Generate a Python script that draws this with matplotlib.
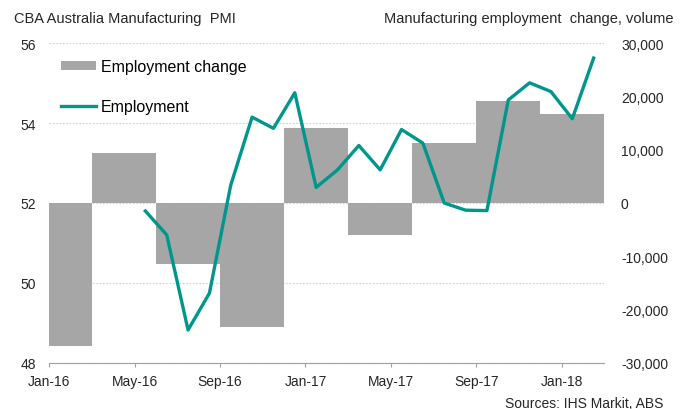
import matplotlib
matplotlib.use("Agg")
import matplotlib.pyplot as plt
import pandas as pd

plt.rcParams['font.family'] = ['Liberation Sans', 'DejaVu Sans']
plt.rcParams['axes.unicode_minus'] = False

# ## Data ##
# month grid used as the x scale (category per month)
months = [p.strftime('%b-%y') for p in pd.period_range('2016-01', '2018-03', freq='M')]
tick_labels = ["Jan-16", "May-16", "Sep-16", "Jan-17", "May-17", "Sep-17", "Jan-18"]

# quarterly manufacturing employment change (volume, right axis)
bar_months = ["Jan-16", "Apr-16", "Jul-16", "Oct-16", "Jan-17",
              "Apr-17", "Jul-17", "Oct-17", "Jan-18"]
emp_change = [-26800, 9400, -11500, -23200, 14000, -6000, 11200, 19100, 16700]

# PMI employment index (left axis)
pmi_months = ["May-16", "Jun-16", "Jul-16", "Aug-16", "Sep-16", "Oct-16",
              "Nov-16", "Dec-16", "Jan-17", "Feb-17", "Mar-17", "Apr-17",
              "May-17", "Jun-17", "Jul-17", "Aug-17", "Sep-17", "Oct-17",
              "Nov-17", "Dec-17", "Jan-18", "Feb-18"]
pmi_employment = [51.80, 51.20, 48.82, 49.74, 52.45, 54.15, 53.87, 54.76,
                  52.39, 52.83, 53.44, 52.83, 53.84, 53.50, 52.00, 51.82,
                  51.81, 54.58, 55.01, 54.79, 54.11, 55.63]

GREY = "#A6A6A6"
TEAL = "#00968C"
TEXT = "#262626"


def month_pos(label):
    """Centre of a month category on the x scale."""
    return months.index(label) + 0.5


fig = plt.figure(figsize=(6.83, 4.10), dpi=100)
fig.subplots_adjust(left=0.0722, right=0.8848, bottom=0.1129, top=0.892)
ax = fig.add_subplot(111)

# bottom layer: PMI scale + gridlines
ax.set_xlim(0, len(months) - 1)
ax.set_ylim(48, 56)
ax.set_yticks([48, 50, 52, 54, 56])
ax.grid(axis='y', color='#D0D0D0', linestyle=(0, (1.5, 1.5)), linewidth=0.8)
ax.set_xticks([months.index(m) for m in tick_labels])
ax.set_xticklabels(tick_labels)
for side in ["top", "right", "left"]:
    ax.spines[side].set_visible(False)
ax.spines["bottom"].set_color("#A0A0A0")
ax.tick_params(axis='y', length=0, pad=9.5, labelsize=10, labelcolor=TEXT)
ax.tick_params(axis='x', length=3, color="#A0A0A0", pad=5, labelsize=10, labelcolor=TEXT)

# middle layer: quarterly bars on the right scale
ax2 = ax.twinx()
bars = ax2.bar([month_pos(m) for m in bar_months], emp_change, width=3,
               color=GREY, label="Employment change")
ax2.set_ylim(-30000, 30000)
ax2.set_yticks(range(-30000, 30001, 10000))
ax2.yaxis.set_major_formatter(matplotlib.ticker.FuncFormatter(lambda v, _: f"{v:,.0f}"))
for side in ["top", "right", "left", "bottom"]:
    ax2.spines[side].set_visible(False)
ax2.tick_params(axis='y', length=0, pad=12, labelsize=10, labelcolor=TEXT)

# top layer: PMI line
ax3 = fig.add_axes(ax.get_position(), sharex=ax, sharey=ax)
ax3.set_axis_off()
line, = ax3.plot([month_pos(m) for m in pmi_months], pmi_employment,
                 color=TEAL, linewidth=2.4, label="Employment")

ax3.legend(handles=[bars, line], loc='upper left', bbox_to_anchor=(0.01, 0.97),
           frameon=False, fontsize=11.5, handlelength=2.2, handleheight=0.5,
           handletextpad=0.3, labelspacing=1.55, borderaxespad=0)

fig.text(14 / 683, 1 - 19 / 410, "CBA Australia Manufacturing  PMI",
         ha='left', va='center', fontsize=10.5, color=TEXT)
fig.text(673 / 683, 1 - 19 / 410, "Manufacturing employment  change, volume",
         ha='right', va='center', fontsize=10.5, color=TEXT)
fig.text(663 / 683, 1 - 404 / 410, "Sources: IHS Markit, ABS",
         ha='right', va='center', fontsize=10, color=TEXT)

fig.savefig("out.png", dpi=100)
